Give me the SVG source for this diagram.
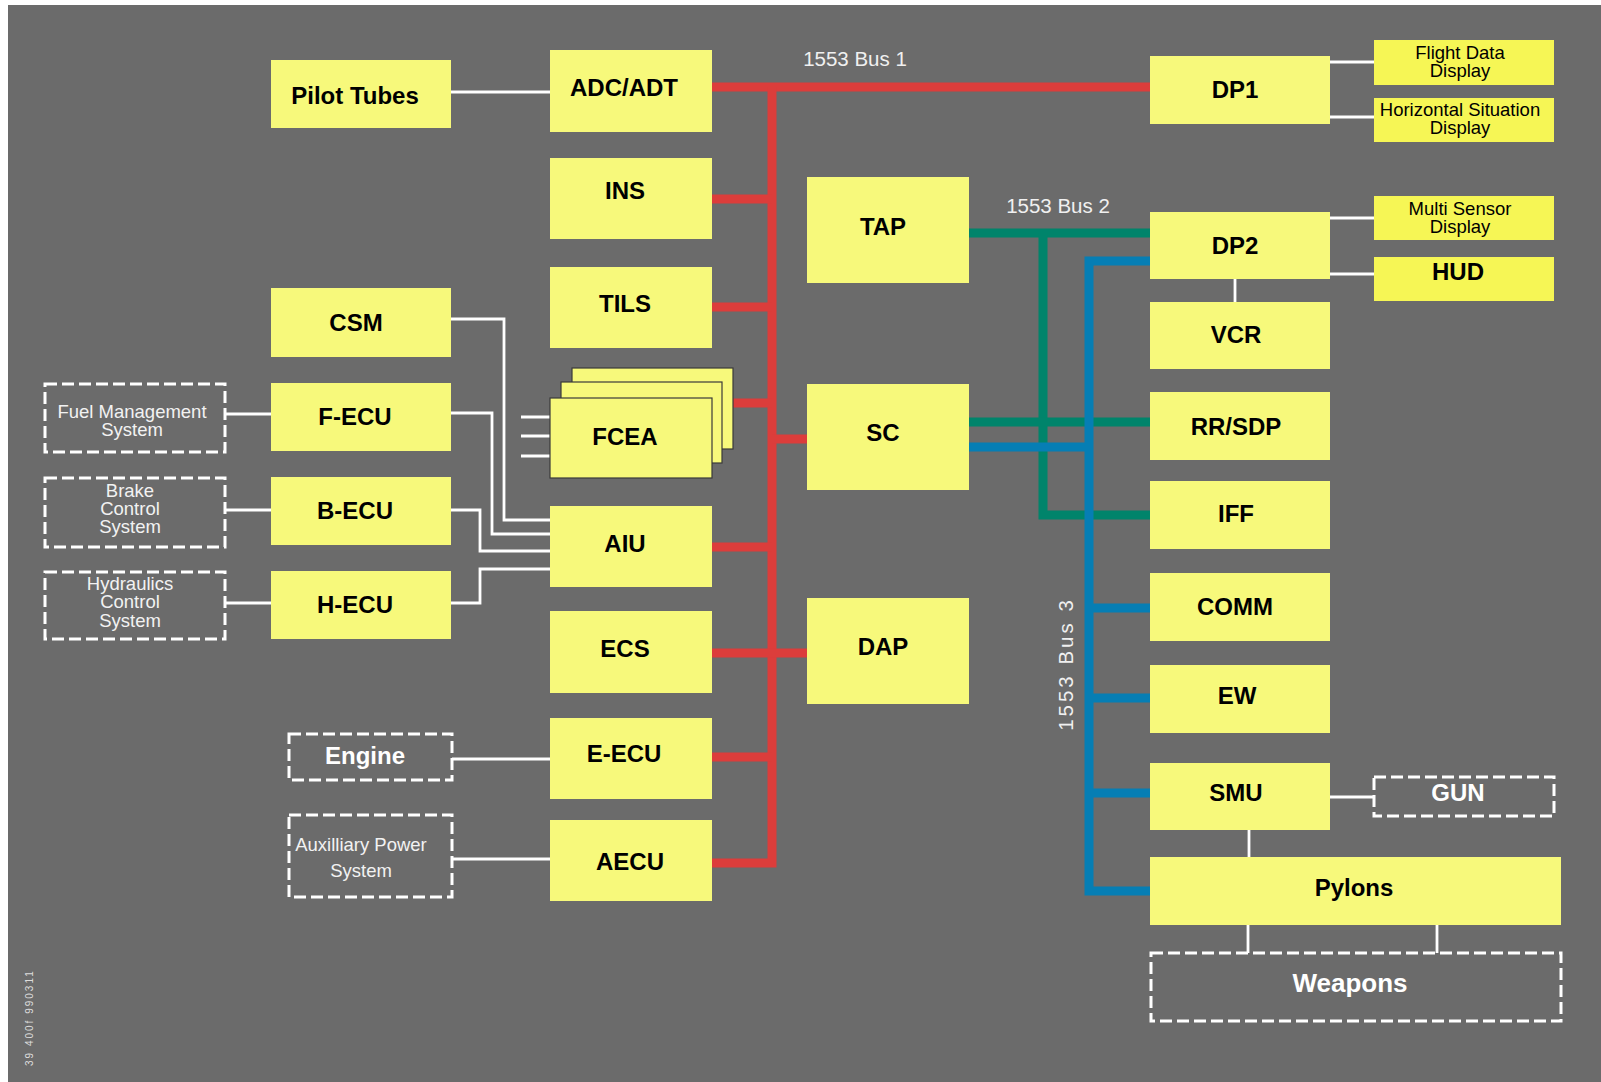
<svg xmlns="http://www.w3.org/2000/svg" width="1601" height="1082" viewBox="0 0 1601 1082">
<style>
.box{fill:#f7f97b}
.disp{fill:#f6f655}
.stack{fill:#f7f97b;stroke:#3a3a3a;stroke-width:1.2}
.dash{fill:none;stroke:#fff;stroke-width:3;stroke-dasharray:12 5}
.lbl{font-family:"Liberation Sans",Arial,sans-serif;font-weight:bold;font-size:24px;fill:#000;text-anchor:middle}
.wl{font-family:"Liberation Sans",Arial,sans-serif;font-weight:bold;font-size:24px;fill:#fff;text-anchor:middle}
.sm{font-family:"Liberation Sans",Arial,sans-serif;font-size:18.5px;fill:#000;text-anchor:middle}
.smw{font-family:"Liberation Sans",Arial,sans-serif;font-size:18.5px;fill:#f2f2f2;text-anchor:middle}
.wire{fill:none;stroke:#fff;stroke-width:2.8}
.red{fill:none;stroke:#dc3d3b;stroke-width:9}
.green{fill:none;stroke:#00846b;stroke-width:9}
.blue{fill:none;stroke:#067eb4;stroke-width:9}
.bus{font-family:"Liberation Sans",Arial,sans-serif;font-size:20.5px;fill:#f0f0f0}
</style>
<rect x="0" y="0" width="1601" height="1082" fill="#fff"/>
<rect x="8" y="5" width="1593" height="1077" fill="#6b6b6b"/>

<g id="connectors">
  <path class="wire" d="M451,92 H550"/>
  <path class="wire" d="M451,319 H504 V520 H550"/>
  <path class="wire" d="M451,413 H492 V534 H550"/>
  <path class="wire" d="M451,510 H480 V551 H550"/>
  <path class="wire" d="M451,603 H480 V569 H550"/>
  <path class="wire" d="M225,414 H271"/>
  <path class="wire" d="M225,510 H271"/>
  <path class="wire" d="M225,603 H271"/>
  <path class="wire" d="M452,759 H550"/>
  <path class="wire" d="M452,859 H550"/>
  <path class="wire" d="M521,417 H550 M521,436 H550 M521,456 H550"/>
  <path class="wire" d="M1330,62 H1374 M1330,117 H1374"/>
  <path class="wire" d="M1330,218 H1374 M1330,274 H1374"/>
  <path class="wire" d="M1235,279 V302"/>
  <path class="wire" d="M1330,797 H1374"/>
  <path class="wire" d="M1249,830 V857"/>
  <path class="wire" d="M1248,925 V953 M1437,925 V953"/>
  <g id="bus1">
    <path class="red" d="M712,87 H1150"/>
    <path class="red" d="M772,87 V863 H712"/>
    <path class="red" d="M712,199 H772 M712,307 H772 M733,403 H772 M772,439 H807 M712,547 H772 M712,653 H807 M712,757 H772"/>
  </g>
  <g id="bus2">
    <path class="green" d="M969,233 H1150"/>
    <path class="green" d="M1043,233 V515 H1150"/>
    <path class="green" d="M969,422 H1150"/>
  </g>
  <g id="bus3">
    <path class="blue" d="M1150,261 H1089 V891 H1150"/>
    <path class="blue" d="M969,447 H1089 M1089,608 H1150 M1089,698 H1150 M1089,793 H1150"/>
  </g>
  <text class="bus" x="855" y="66" text-anchor="middle">1553 Bus 1</text>
  <text class="bus" x="1058" y="213" text-anchor="middle">1553 Bus 2</text>
  <text class="bus" transform="translate(1073,664) rotate(-90)" text-anchor="middle" letter-spacing="3">1553 Bus 3</text>
</g>

<g id="pilot-tubes"><rect class="box" x="271" y="60" width="180" height="68"/><text class="lbl" x="355" y="104">Pilot Tubes</text></g>
<g id="adc-adt"><rect class="box" x="550" y="50" width="162" height="82"/><text class="lbl" x="624" y="96">ADC/ADT</text></g>
<g id="ins"><rect class="box" x="550" y="158" width="162" height="81"/><text class="lbl" x="625" y="199">INS</text></g>
<g id="tils"><rect class="box" x="550" y="267" width="162" height="81"/><text class="lbl" x="625" y="312">TILS</text></g>
<g id="csm"><rect class="box" x="271" y="288" width="180" height="69"/><text class="lbl" x="356" y="331">CSM</text></g>
<g id="fuel-mgmt"><rect class="dash" x="45" y="384" width="180" height="68"/><text class="smw" x="132" y="418">Fuel Management</text><text class="smw" x="132" y="436">System</text></g>
<g id="f-ecu"><rect class="box" x="271" y="383" width="180" height="68"/><text class="lbl" x="355" y="425">F-ECU</text></g>
<g id="brake"><rect class="dash" x="45" y="478" width="180" height="69"/><text class="smw" x="130" y="497">Brake</text><text class="smw" x="130" y="515">Control</text><text class="smw" x="130" y="533">System</text></g>
<g id="b-ecu"><rect class="box" x="271" y="477" width="180" height="68"/><text class="lbl" x="355" y="519">B-ECU</text></g>
<g id="hydraulics"><rect class="dash" x="45" y="572" width="180" height="67"/><text class="smw" x="130" y="590">Hydraulics</text><text class="smw" x="130" y="608">Control</text><text class="smw" x="130" y="627">System</text></g>
<g id="h-ecu"><rect class="box" x="271" y="571" width="180" height="68"/><text class="lbl" x="355" y="613">H-ECU</text></g>
<g id="fcea">
  <rect class="stack" x="572" y="368" width="161" height="81"/>
  <rect class="stack" x="561" y="382" width="161" height="81"/>
  <rect class="stack" x="550" y="398" width="162" height="80"/>
  <text class="lbl" x="625" y="445">FCEA</text>
</g>
<g id="aiu"><rect class="box" x="550" y="506" width="162" height="81"/><text class="lbl" x="625" y="552">AIU</text></g>
<g id="ecs"><rect class="box" x="550" y="611" width="162" height="82"/><text class="lbl" x="625" y="657">ECS</text></g>
<g id="engine"><rect class="dash" x="289" y="734" width="163" height="46"/><text class="wl" x="365" y="764">Engine</text></g>
<g id="e-ecu"><rect class="box" x="550" y="718" width="162" height="81"/><text class="lbl" x="624" y="762">E-ECU</text></g>
<g id="aux-power"><rect class="dash" x="289" y="815" width="163" height="82"/><text class="smw" x="361" y="851">Auxilliary Power</text><text class="smw" x="361" y="877">System</text></g>
<g id="aecu"><rect class="box" x="550" y="820" width="162" height="81"/><text class="lbl" x="630" y="870">AECU</text></g>
<g id="tap"><rect class="box" x="807" y="177" width="162" height="106"/><text class="lbl" x="883" y="235">TAP</text></g>
<g id="sc"><rect class="box" x="807" y="384" width="162" height="106"/><text class="lbl" x="883" y="441">SC</text></g>
<g id="dap"><rect class="box" x="807" y="598" width="162" height="106"/><text class="lbl" x="883" y="655">DAP</text></g>
<g id="dp1"><rect class="box" x="1150" y="56" width="180" height="68"/><text class="lbl" x="1235" y="98">DP1</text></g>
<g id="flight-data"><rect class="disp" x="1374" y="40" width="180" height="45"/><text class="sm" x="1460" y="59">Flight Data</text><text class="sm" x="1460" y="77">Display</text></g>
<g id="hsd"><rect class="disp" x="1374" y="98" width="180" height="44"/><text class="sm" x="1460" y="116">Horizontal Situation</text><text class="sm" x="1460" y="134">Display</text></g>
<g id="dp2"><rect class="box" x="1150" y="212" width="180" height="67"/><text class="lbl" x="1235" y="254">DP2</text></g>
<g id="msd"><rect class="disp" x="1374" y="196" width="180" height="44"/><text class="sm" x="1460" y="215">Multi Sensor</text><text class="sm" x="1460" y="233">Display</text></g>
<g id="hud"><rect class="disp" x="1374" y="257" width="180" height="44"/><text class="lbl" x="1458" y="280">HUD</text></g>
<g id="vcr"><rect class="box" x="1150" y="302" width="180" height="67"/><text class="lbl" x="1236" y="343">VCR</text></g>
<g id="rr-sdp"><rect class="box" x="1150" y="392" width="180" height="68"/><text class="lbl" x="1236" y="435">RR/SDP</text></g>
<g id="iff"><rect class="box" x="1150" y="481" width="180" height="68"/><text class="lbl" x="1236" y="522">IFF</text></g>
<g id="comm"><rect class="box" x="1150" y="573" width="180" height="68"/><text class="lbl" x="1235" y="615">COMM</text></g>
<g id="ew"><rect class="box" x="1150" y="665" width="180" height="68"/><text class="lbl" x="1237" y="704">EW</text></g>
<g id="smu"><rect class="box" x="1150" y="763" width="180" height="67"/><text class="lbl" x="1236" y="801">SMU</text></g>
<g id="gun"><rect class="dash" x="1374" y="777" width="180" height="39"/><text class="wl" x="1458" y="801">GUN</text></g>
<g id="pylons"><rect class="box" x="1150" y="857" width="411" height="68"/><text class="lbl" x="1354" y="896">Pylons</text></g>
<g id="weapons"><rect class="dash" x="1151" y="953" width="410" height="68"/><text class="wl" x="1350" y="992" style="font-size:26px">Weapons</text></g>

<text transform="translate(33,1066) rotate(-90)" font-family="Liberation Sans, Arial, sans-serif" font-size="10" fill="#dddddd" letter-spacing="2">39 400f 990311</text>
</svg>
